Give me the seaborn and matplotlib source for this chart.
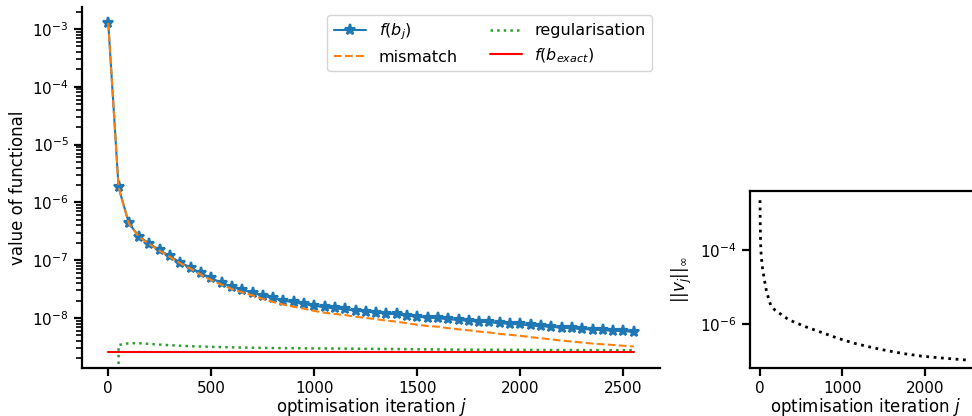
import numpy as np
import pandas as pd
import matplotlib
matplotlib.use("Agg")
import matplotlib.pyplot as plt
import matplotlib.ticker as mticker
import seaborn as sns

# ---------------- data ----------------
iterations = list(range(0, 2551, 50))

f_bj = [1.27e-3, 1.82e-6, 4.34e-7, 2.55e-7, 1.93e-7, 1.48e-7, 1.16e-7, 9.1e-8,
        7.4e-8, 5.92e-8, 4.84e-8, 4.07e-8, 3.47e-8, 3.09e-8, 2.75e-8, 2.43e-8,
        2.19e-8, 2.00e-8, 1.86e-8, 1.74e-8, 1.62e-8, 1.53e-8, 1.46e-8, 1.41e-8,
        1.34e-8, 1.29e-8, 1.24e-8, 1.19e-8, 1.15e-8, 1.10e-8, 1.05e-8, 1.01e-8,
        9.9e-9, 9.5e-9, 9.2e-9, 8.9e-9, 8.6e-9, 8.4e-9, 8.1e-9, 7.9e-9,
        7.7e-9, 7.4e-9, 7.2e-9, 7.0e-9, 6.8e-9, 6.6e-9, 6.45e-9, 6.3e-9,
        6.15e-9, 6.0e-9, 5.9e-9, 5.75e-9]

mismatch = [1.27e-3, 1.82e-6, 4.30e-7, 2.51e-7, 1.89e-7, 1.45e-7, 1.13e-7, 8.8e-8,
            7.1e-8, 5.6e-8, 4.52e-8, 3.76e-8, 3.16e-8, 2.78e-8, 2.45e-8, 2.13e-8,
            1.89e-8, 1.70e-8, 1.56e-8, 1.44e-8, 1.32e-8, 1.23e-8, 1.17e-8, 1.12e-8,
            1.05e-8, 9.98e-9, 9.5e-9, 9.0e-9, 8.6e-9, 8.1e-9, 7.6e-9, 7.25e-9,
            7.05e-9, 6.65e-9, 6.35e-9, 6.1e-9, 5.8e-9, 5.6e-9, 5.3e-9, 5.1e-9,
            4.9e-9, 4.65e-9, 4.45e-9, 4.25e-9, 4.05e-9, 3.9e-9, 3.75e-9, 3.6e-9,
            3.5e-9, 3.4e-9, 3.3e-9, 3.2e-9]

regularisation = [0.0, 3.4e-9, 3.65e-9, 3.65e-9, 3.55e-9, 3.45e-9, 3.37e-9, 3.3e-9,
                  3.24e-9, 3.2e-9, 3.16e-9, 3.13e-9, 3.1e-9, 3.07e-9, 3.05e-9, 3.03e-9,
                  3.01e-9, 3.0e-9, 2.99e-9, 2.98e-9, 2.97e-9, 2.96e-9, 2.95e-9, 2.94e-9,
                  2.93e-9, 2.92e-9, 2.91e-9, 2.90e-9, 2.89e-9, 2.88e-9, 2.87e-9, 2.86e-9,
                  2.85e-9, 2.84e-9, 2.83e-9, 2.82e-9, 2.82e-9, 2.81e-9, 2.81e-9, 2.80e-9,
                  2.80e-9, 2.79e-9, 2.79e-9, 2.78e-9, 2.78e-9, 2.78e-9, 2.77e-9, 2.77e-9,
                  2.77e-9, 2.76e-9, 2.76e-9, 2.76e-9]

f_exact_value = 2.55e-9

vj_iterations = [0, 2, 5, 10, 25, 50, 80, 130, 180, 350, 550, 750, 950, 1150,
                 1350, 1550, 1750, 1950, 2150, 2350, 2550]
vj_norm = [2.2e-3, 7.2e-4, 2.5e-4, 1.0e-4, 3.9e-5, 1.7e-5, 7.4e-6, 3.2e-6, 2.4e-6,
           1.3e-6, 8.5e-7, 5.9e-7, 4.1e-7, 3.0e-7, 2.35e-7, 1.9e-7, 1.58e-7,
           1.37e-7, 1.24e-7, 1.14e-7, 1.05e-7]

left_yticks = [1e-8, 1e-7, 1e-6, 1e-5, 1e-4, 1e-3]
left_xticks = [0, 500, 1000, 1500, 2000, 2500]
right_yticks = [1e-6, 1e-4]
right_xticks = [0, 1000, 2000]

# ---------------- style ----------------
sns.set_theme(style="ticks", context="notebook",
              rc={"axes.edgecolor": "black", "axes.labelcolor": "black",
                  "text.color": "black", "xtick.color": "black",
                  "ytick.color": "black", "axes.linewidth": 1.6,
                  "xtick.major.width": 1.6, "ytick.major.width": 1.6,
                  "xtick.minor.width": 1.2, "ytick.minor.width": 1.2})
plt.rcParams['font.family'] = ['DejaVu Sans']

df = pd.DataFrame({"j": iterations, "f": f_bj, "mismatch": mismatch,
                   "reg": regularisation,
                   "exact": [f_exact_value] * len(iterations)})
dv = pd.DataFrame({"j": vj_iterations, "v": vj_norm})

fig = plt.figure(figsize=(9.72, 4.16), dpi=100)
ax1 = fig.add_axes([82 / 972, 1 - 368 / 416, (660 - 82) / 972, (368 - 7) / 416])
ax2 = fig.add_axes([749.5 / 972, 1 - 368 / 416, 231 / 972, (368 - 191) / 416])

c = sns.color_palette("tab10")

sns.lineplot(data=df, x="j", y="f", ax=ax1, color=c[0], marker="*",
             markersize=8, markeredgecolor=c[0], markeredgewidth=1.6,
             linewidth=1.5, label=r"$f(b_j)$")
sns.lineplot(data=df, x="j", y="mismatch", ax=ax1, color=c[1],
             linestyle="--", linewidth=1.5, label="mismatch")
sns.lineplot(data=df, x="j", y="reg", ax=ax1, color=c[2],
             linestyle=":", linewidth=1.8, label="regularisation")
sns.lineplot(data=df, x="j", y="exact", ax=ax1, color="red",
             linewidth=1.5, label=r"$f(b_{exact})$")

ax1.set_yscale("log")
ax1.set_ylim(1.36e-9, 2.4e-3)
ax1.set_xlim(-127.5, 2677.5)
ax1.set_xlabel(r"optimisation iteration $j$", labelpad=-0.5)
ax1.set_ylabel("value of functional")
ax1.set_xticks(left_xticks)
ax1.set_yticks(left_yticks)
ax1.yaxis.set_major_formatter(mticker.LogFormatterSciNotation())
ax1.yaxis.set_minor_locator(mticker.LogLocator(base=10, subs=np.arange(2, 10), numticks=20))
ax1.yaxis.set_minor_formatter(mticker.NullFormatter())
sns.despine(ax=ax1)
ax1.legend(loc="upper right", ncol=2, fontsize=11.5)

sns.lineplot(data=dv, x="j", y="v", ax=ax2, color="black", linestyle=":",
             linewidth=2)
ax2.set_yscale("log")
ax2.set_ylim(6.5e-8, 3.9e-3)
ax2.set_xlim(-127.5, 2677.5)
ax2.set_yticks(right_yticks)
ax2.yaxis.set_major_formatter(mticker.LogFormatterSciNotation())
ax2.yaxis.set_minor_locator(mticker.NullLocator())
ax2.set_xticks(right_xticks)
ax2.set_xlabel(r"optimisation iteration $j$", labelpad=-0.5)
ax2.set_ylabel(r"$||v_j||_\infty$")

fig.savefig("out.png", dpi=100)
